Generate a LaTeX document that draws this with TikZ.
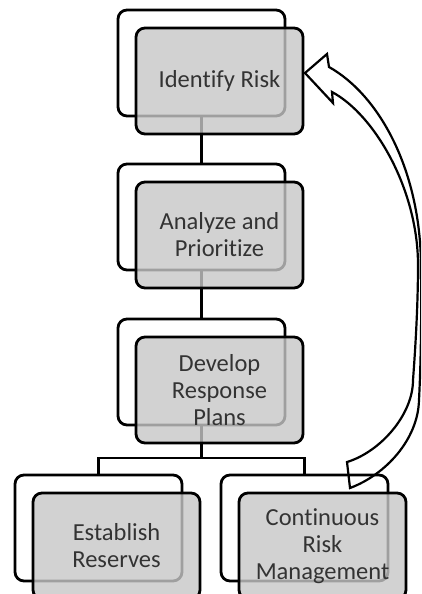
\documentclass[tikz,border=0pt]{standalone}
\usepackage{fontspec}
\setmainfont{Carlito}[Ligatures={NoCommon}]
\begin{document}
\begin{tikzpicture}[x=1pt,y=-1pt,
  backbox/.style={draw=black, line width=2.8pt, fill=white, rounded corners=9pt,
    minimum width=167pt, minimum height=106pt, inner sep=0pt, outer sep=0pt},
  frontbox/.style={draw=black, line width=2.8pt, fill=black!22, fill opacity=0.8,
    draw opacity=1, text opacity=1, rounded corners=9pt,
    minimum width=167pt, minimum height=106pt, inner sep=0pt, outer sep=0pt,
    align=center, text=black!80, font=\fontsize{24.5}{27}\selectfont},
  link/.style={draw=black, line width=2.8pt},
  ribbon/.style={draw=black, line width=2.2pt, line join=miter}]

\fill[white] (0,0) rectangle (421,594);
\clip (0,0) rectangle (421,594);

% back (outline) boxes
\node[backbox] (b1) at (201.5,63) {};
\node[backbox] (b2) at (201.5,217) {};
\node[backbox] (b3) at (201.5,372) {};
\node[backbox] (b4) at (98.5,528) {};
\node[backbox] (b5) at (304.5,528) {};

% tree connectors
\coordinate (split) at (201.5,458);
\draw[link] (b1.south) -- (b2.north);
\draw[link] (b2.south) -- (b3.north);
\draw[link] (b3.south) -- (split);
\draw[link] (b4.north) |- (split) -| (b5.north);

% shaded front boxes with the step labels
\node[frontbox] (f1) at (219.5,81) {Identify Risk};
\node[frontbox] (f2) at (219.5,235) {Analyze and\\Prioritize};
\node[frontbox] (f3) at (219.5,390) {Develop\\Response\\Plans};
\node[frontbox] (f4) at (116.5,546) {Establish\\Reserves};
\node[frontbox] (f5) at (322.5,546) {Continuous\\Risk\\Management};

% curved feedback arrow from the last step back to the first
\coordinate (tip) at (305,73);
\coordinate (barbA) at (327,54);
\coordinate (notchA) at (329,67);
\coordinate (outerMid) at (421,268);
\coordinate (outerLow) at (419,400);
\coordinate (tailA) at (350,488);
\coordinate (tailB) at (347,462);
\coordinate (innerLow) at (413,380);
\coordinate (innerMid) at (418,265);
\coordinate (notchB) at (332,92);
\coordinate (barbB) at (333,103);
\draw[ribbon] (tip) -- (barbA) -- (notchA)
  .. controls (379,95) and (421,170) .. (outerMid)
  .. controls (421.5,320) and (421,360) .. (outerLow)
  .. controls (418,440) and (385,475) .. (tailA)
  -- (tailB)
  .. controls (380,452) and (413,415) .. (innerLow)
  .. controls (416,340) and (418,300) .. (innerMid)
  .. controls (418,190) and (375,115) .. (notchB)
  -- (barbB) -- cycle;
\end{tikzpicture}
\end{document}
